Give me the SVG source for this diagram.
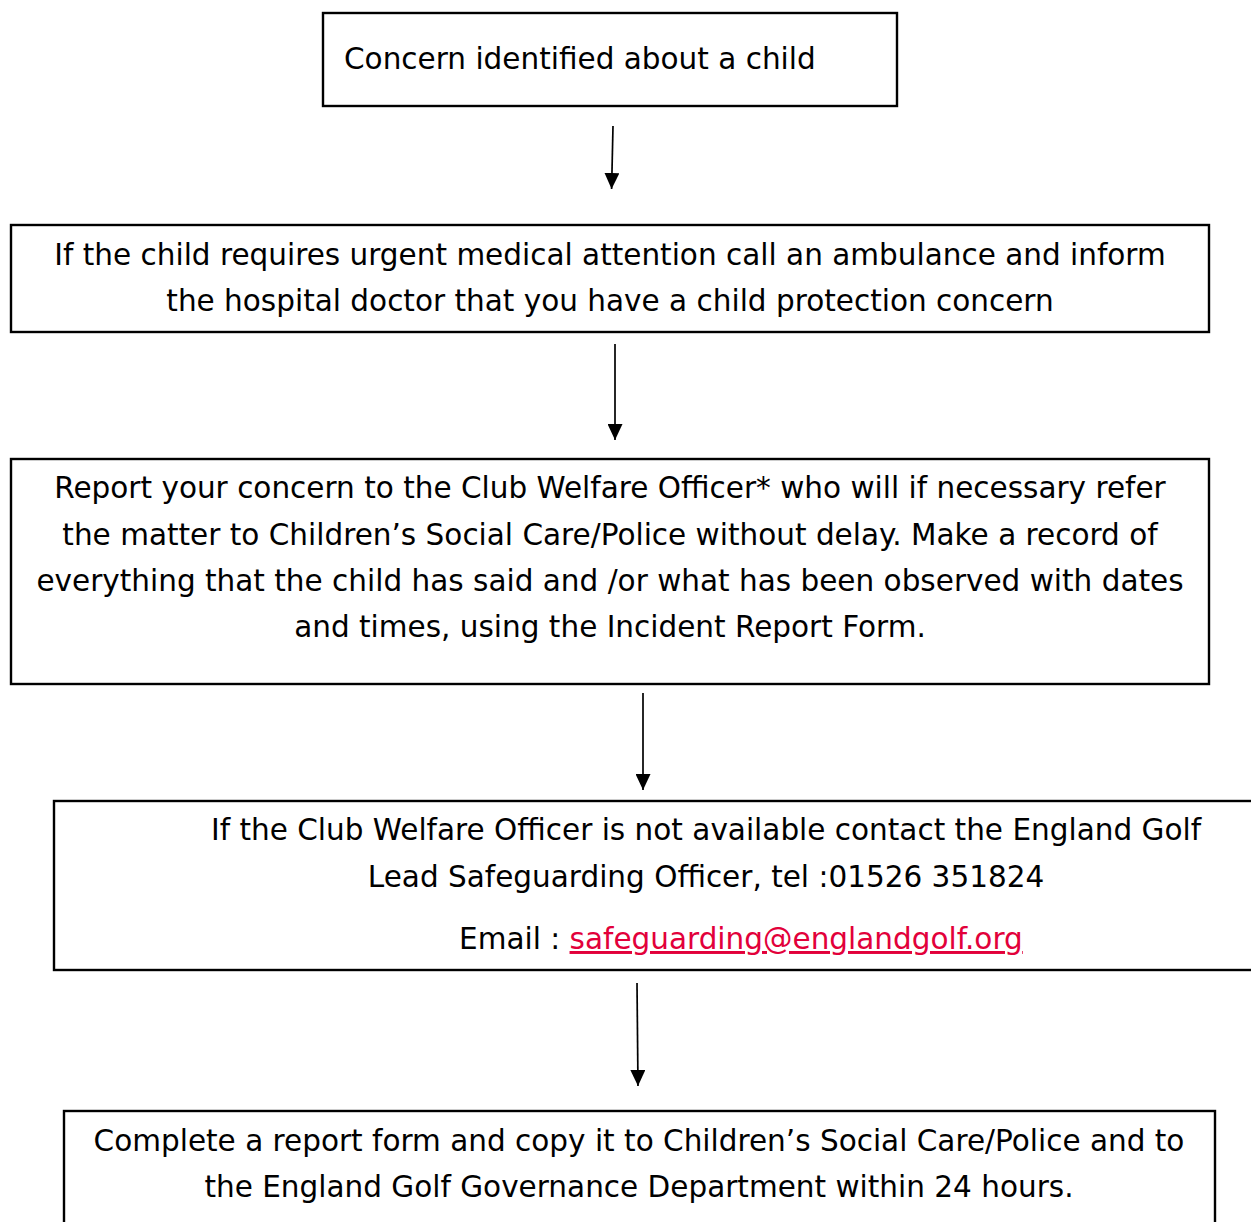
<svg xmlns="http://www.w3.org/2000/svg" width="1251" height="1222" viewBox="0 0 1251 1222">
  <style>
    .box { fill: #ffffff; stroke: #000000; stroke-width: 2.4; }
    .t { font-family: "DejaVu Sans", Verdana, sans-serif; font-size: 29.5px; fill: #000000; }
    .c { text-anchor: middle; }
    .link { fill: #E2003A; text-decoration: underline; }
    .conn { stroke: #000000; stroke-width: 1.7; fill: none; marker-end: url(#arrow); }
  </style>
  <defs>
    <marker id="arrow" viewBox="0 0 16 15" refX="16" refY="7.5" markerWidth="16" markerHeight="15" markerUnits="userSpaceOnUse" orient="auto">
      <path d="M0,0 L16,7.5 L0,15 z" fill="#000000"/>
    </marker>
  </defs>
  <rect width="1251" height="1222" fill="#ffffff"/>

  <g id="node-concern">
    <rect class="box" x="323" y="13" width="574" height="93"/>
    <text class="t" x="344" y="69">Concern identified about a child</text>
  </g>

  <g id="node-medical">
    <rect class="box" x="11" y="225" width="1198" height="107"/>
    <text class="t c" x="610" y="265">If the child requires urgent medical attention call an ambulance and inform</text>
    <text class="t c" x="610" y="311">the hospital doctor that you have a child protection concern</text>
  </g>

  <g id="node-report">
    <rect class="box" x="11" y="459" width="1198" height="225"/>
    <text class="t c" x="610" y="498">Report your concern to the Club Welfare Officer* who will if necessary refer</text>
    <text class="t c" x="610" y="545">the matter to Children’s Social Care/Police without delay. Make a record of</text>
    <text class="t c" x="610" y="591">everything that the child has said and /or what has been observed with dates</text>
    <text class="t c" x="610" y="637">and times, using the Incident Report Form.</text>
  </g>

  <g id="node-unavailable">
    <rect class="box" x="54" y="801" width="1210" height="169"/>
    <text class="t c" x="706" y="840">If the Club Welfare Officer is not available contact the England Golf</text>
    <text class="t c" x="706" y="887">Lead Safeguarding Officer, tel :01526 351824</text>
    <text class="t" x="459" y="949">Email : <tspan class="link">safeguarding@englandgolf.org</tspan></text>
  </g>

  <g id="node-complete">
    <rect class="box" x="64" y="1111" width="1151" height="130"/>
    <text class="t c" x="639" y="1151">Complete a report form and copy it to Children’s Social Care/Police and to</text>
    <text class="t c" x="639" y="1197">the England Golf Governance Department within 24 hours.</text>
  </g>

  <g id="connectors">
    <line class="conn" x1="613" y1="126" x2="611.6" y2="189"/>
    <line class="conn" x1="615" y1="344" x2="615" y2="440"/>
    <line class="conn" x1="643" y1="693" x2="643" y2="790"/>
    <line class="conn" x1="637" y1="983" x2="638" y2="1086"/>
  </g>
</svg>
